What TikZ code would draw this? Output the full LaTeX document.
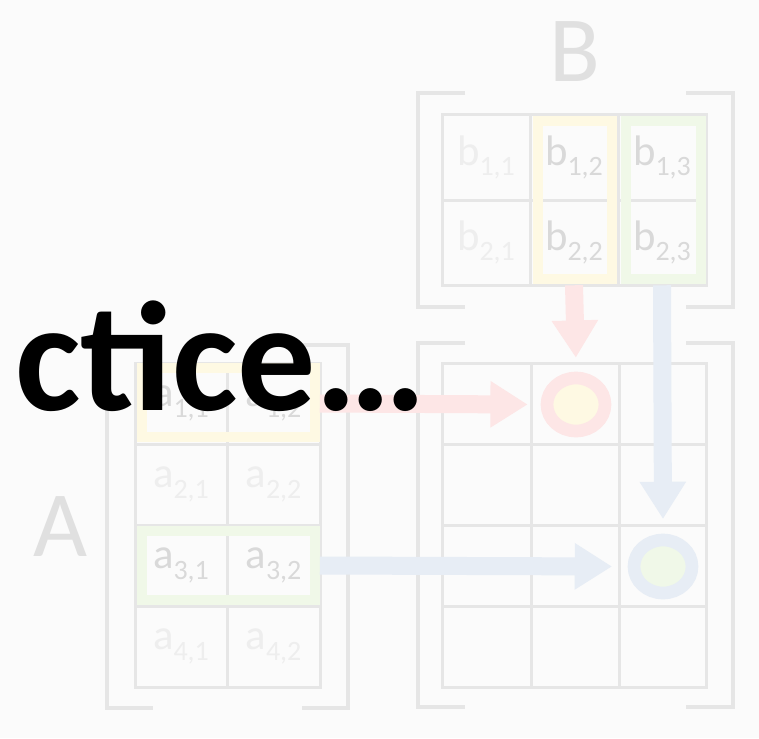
\documentclass[tikz,border=0pt]{standalone}
\usepackage{fontspec}
\setmainfont{Carlito}
\usetikzlibrary{arrows.meta}
\definecolor{bg}{HTML}{FBFBFB}
\definecolor{gridgray}{HTML}{E6E6E6}
\definecolor{letgray}{HTML}{E0E0E0}
\definecolor{txtdark}{HTML}{D9D9D9}
\definecolor{txtpale}{HTML}{EEEEEE}
\definecolor{hiyellow}{HTML}{FEF9E3}
\definecolor{higreen}{HTML}{F0F8E8}
\definecolor{arrred}{HTML}{FDE6E6}
\definecolor{arrblue}{HTML}{E7EDF5}
\newcommand{\elem}[2]{#1\raisebox{-0.25em}{\fontsize{21}{21}\selectfont #2}}
\begin{document}
\begin{tikzpicture}[x=0.75pt,y=-0.75pt,
	gridline/.style={draw=gridgray,line width=2.25pt},
	bracket/.style={draw=gridgray,line width=3pt},
	hilite/.style={line width=7.5pt},
	cell/.style={inner sep=0pt,minimum width=66pt,minimum height=60.75pt,font=\fontsize{32}{32}\selectfont},
	bcell/.style={cell,minimum height=63.75pt},
	acell/.style={cell,minimum width=69pt},
	fat/.style={line width=13.5pt,-{Triangle[length=28pt,width=33pt]}},
	ring/.style={line width=9.5pt}]
		\fill[bg] (0,0) rectangle (759,738);
		\useasboundingbox (0,0) rectangle (759,738);
		\draw[gridline] (442,115) rectangle (706,285) (530,115)--(530,285) (618,115)--(618,285) (442,200)--(706,200);
		\draw[bracket] (465,93)--(418,93)--(418,307)--(465,307) (686,93)--(733,93)--(733,307)--(686,307);
		\draw[gridline] (442,363) rectangle (706,687) (531,363)--(531,687) (619,363)--(619,687)
			(442,444)--(706,444) (442,525)--(706,525) (442,606)--(706,606);
		\draw[bracket] (465,343)--(418,343)--(418,707)--(465,707) (686,343)--(733,343)--(733,707)--(686,707);
		\draw[gridline] (135,363) rectangle (320,687) (227,363)--(227,687)
			(135,444)--(320,444) (135,525)--(320,525) (135,606)--(320,606);
		\draw[bracket] (153,345)--(107,345)--(107,708)--(153,708) (302,345)--(348,345)--(348,708)--(302,708);
		\draw[hilite,draw=hiyellow] (538,121) rectangle (612,279);
		\draw[hilite,draw=higreen] (626,121) rectangle (701,279);
		\draw[hilite,draw=hiyellow] (142,368) rectangle (315,437);
		\draw[hilite,draw=higreen] (142,531) rectangle (315,600);
		\node[text=letgray,font=\fontsize{70}{70}\selectfont] (Bname) at (575,52) {B};
		\node[text=letgray,font=\fontsize{70}{70}\selectfont] (Aname) at (61,527) {A};
		\node[bcell,text=txtpale] (b11) at (486,157.5) {\elem{b}{1,1}};
		\node[bcell,text=txtdark] (b12) at (574,157.5) {\elem{b}{1,2}};
		\node[bcell,text=txtdark] (b13) at (662,157.5) {\elem{b}{1,3}};
		\node[bcell,text=txtpale] (b21) at (486,242.5) {\elem{b}{2,1}};
		\node[bcell,text=txtdark] (b22) at (574,242.5) {\elem{b}{2,2}};
		\node[bcell,text=txtdark] (b23) at (662,242.5) {\elem{b}{2,3}};
		\node[acell,text=txtdark] (a11) at (181,403.5) {\elem{a}{1,1}};
		\node[acell,text=txtdark] (a12) at (273.5,403.5) {\elem{a}{1,2}};
		\node[acell,text=txtpale] (a21) at (181,484.5) {\elem{a}{2,1}};
		\node[acell,text=txtpale] (a22) at (273.5,484.5) {\elem{a}{2,2}};
		\node[acell,text=txtdark] (a31) at (181,565.5) {\elem{a}{3,1}};
		\node[acell,text=txtdark] (a32) at (273.5,565.5) {\elem{a}{3,2}};
		\node[acell,text=txtpale] (a41) at (181,646.5) {\elem{a}{4,1}};
		\node[acell,text=txtpale] (a42) at (273.5,646.5) {\elem{a}{4,2}};
		\node[cell] (c12) at (576,404.5) {};
		\node[cell] (c33) at (663,566.5) {};
		\draw[ring,draw=arrred,fill=hiyellow] (c12) ellipse [x radius=29,y radius=26.5];
		\draw[ring,draw=arrblue,fill=higreen] (c33) ellipse [x radius=29,y radius=26.5];
		\draw[fat,draw=arrred,shorten >=4.5pt] (b22.south) -- (c12.north);
		\draw[fat,draw=arrblue,shorten >=5pt] (b23.south) -- (c33.north);
		\draw[fat,draw=arrred,shorten >=3pt] (a12.east) -- (c12.west);
		\draw[fat,draw=arrblue,shorten >=5pt] (a32.east) -- (c33.west);
		\node[anchor=base west,font=\fontsize{117}{117}\selectfont\bfseries] (title) at (11,410) {ctice…};
	\end{tikzpicture}
\end{document}
